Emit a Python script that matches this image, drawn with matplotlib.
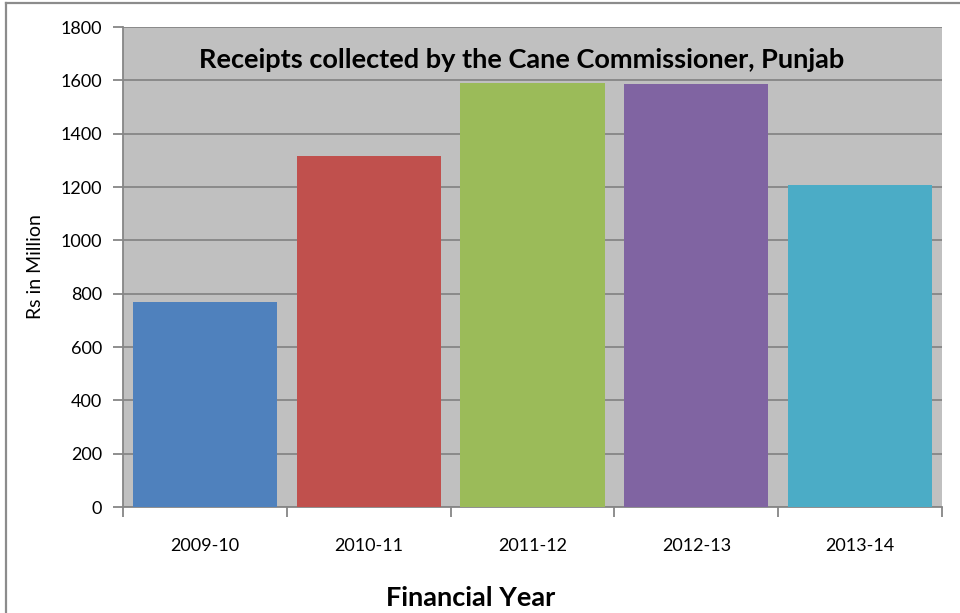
import matplotlib
matplotlib.use("Agg")
import matplotlib.pyplot as plt
from matplotlib.lines import Line2D

years = ["2009-10", "2010-11", "2011-12", "2012-13", "2013-14"]
receipts = [770, 1317, 1591, 1587, 1208]
colors = ["#4F81BD", "#C0504D", "#9BBB59", "#8064A2", "#4BACC6"]
yticks = [0, 200, 400, 600, 800, 1000, 1200, 1400, 1600, 1800]

plt.rcParams['font.family'] = ['Lato', 'DejaVu Sans']

fig = plt.figure(figsize=(9.6, 6.13), dpi=100)
ax = fig.add_axes([123/960, 1 - 507/613, 819/960, 480/613])
ax.set_facecolor("#C0C0C0")

x = list(range(len(years)))
ax.bar(x, receipts, width=0.88, color=colors, zorder=3)

ax.set_xlim(-0.5, len(years) - 0.5)
ax.set_ylim(0, 1800)
ax.set_yticks(yticks)
ax.set_yticklabels([str(v) for v in yticks], fontsize=13)
ax.grid(axis="y", color="#868686", linewidth=1.3, zorder=1)

# category ticks sit between the bars
ax.set_xticks([i - 0.5 for i in range(len(years) + 1)])
ax.set_xticklabels([])
ax.set_xticks(x, minor=True)
ax.set_xticklabels(years, minor=True, fontsize=13)
ax.tick_params(axis="x", which="minor", length=0, pad=22)
ax.tick_params(axis="x", which="major", length=7, width=1.3, color="#868686")
ax.tick_params(axis="y", length=7, width=1.3, color="#868686", pad=8)

for s in ["top", "right"]:
    ax.spines[s].set_visible(False)
for s in ["left", "bottom"]:
    ax.spines[s].set_color("#868686")
    ax.spines[s].set_linewidth(1.3)

ax.text(0.487, 0.931, "Receipts collected by the Cane Commissioner, Punjab",
        transform=ax.transAxes, ha="center", va="center",
        fontsize=19.5, fontweight="bold", zorder=5)

ax.set_ylabel("Rs in Million", fontsize=14, labelpad=12)
ax.set_xlabel("Financial Year", fontsize=19.5, fontweight="bold", va="center")
ax.xaxis.set_label_coords(0.424, -0.19)

# chart frame (top and left edges visible)
fig.add_artist(Line2D([6/960, 1], [1 - 3/613, 1 - 3/613], color="#8C8C8C", linewidth=1.6))
fig.add_artist(Line2D([6/960, 6/960], [0, 1 - 3/613], color="#8C8C8C", linewidth=1.6))

fig.savefig("out.png", dpi=100)
